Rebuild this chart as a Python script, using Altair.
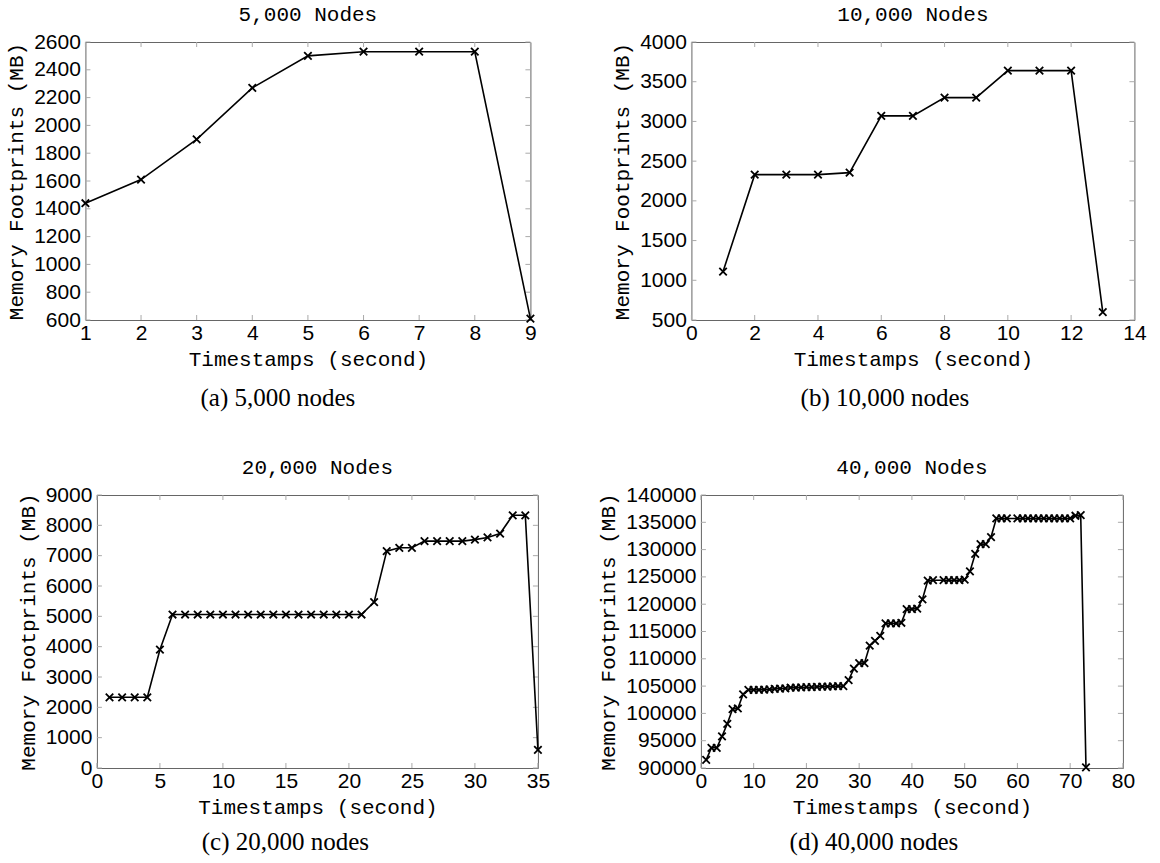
import altair as alt
import pandas as pd

# ---------------- data ----------------
A_T = [1, 2, 3, 4, 5, 6, 7, 8, 9]
A_MB = [1440, 1610, 1900, 2270, 2500, 2530, 2530, 2530, 610]

B_T = [1, 2, 3, 4, 5, 6, 7, 8, 9, 10, 11, 12, 13]
B_MB = [1110, 2330, 2330, 2330, 2355, 3070, 3070, 3300, 3300, 3640, 3640, 3640, 600]

C_T = [1, 2, 3, 4, 5, 6, 7, 8, 9, 10, 11, 12, 13, 14, 15, 16, 17, 18, 19, 20,
       21, 22, 23, 24, 25, 26, 27, 28, 29, 30, 31, 32, 33, 34, 35]
C_MB = [2330, 2330, 2330, 2330, 3900, 5060, 5060, 5060, 5060, 5060, 5060, 5060,
        5060, 5060, 5060, 5060, 5060, 5060, 5060, 5060, 5060, 5470, 7150, 7260,
        7260, 7480, 7480, 7480, 7480, 7530, 7600, 7730, 8330, 8330, 600]

D_T = [1, 2, 3, 4, 5, 6, 7, 8, 9, 10, 11, 12, 13, 14, 15, 16, 17, 18, 19, 20,
       21, 22, 23, 24, 25, 26, 27, 28, 29, 30, 31, 32, 33, 34, 35, 36, 37, 38,
       39, 40, 41, 42, 43, 44, 46, 47, 48, 49, 50, 51, 52, 53, 54, 55, 56, 57,
       58, 60, 61, 62, 63, 64, 65, 66, 67, 68, 69, 70, 71, 72, 73]
D_MB = [91500, 93700, 93700, 95800, 98100, 100800, 100900, 103500, 104300,
        104300, 104300, 104350, 104400, 104500, 104550, 104600, 104700, 104700,
        104750, 104800, 104800, 104850, 104900, 104900, 104950, 105000, 105000,
        106100, 108200, 109200, 109200, 112400, 113300, 114200, 116500, 116500,
        116500, 116600, 119100, 119100, 119200, 120900, 124300, 124400, 124400,
        124400, 124400, 124400, 124500, 126000, 129200, 131000, 131000, 132300,
        135700, 135700, 135700, 135700, 135700, 135700, 135700, 135700, 135700,
        135700, 135700, 135700, 135700, 135700, 136200, 136300, 90100]

A_XTICKS = [1, 2, 3, 4, 5, 6, 7, 8, 9]
A_YTICKS = [600, 800, 1000, 1200, 1400, 1600, 1800, 2000, 2200, 2400, 2600]
B_XTICKS = [0, 2, 4, 6, 8, 10, 12, 14]
B_YTICKS = [500, 1000, 1500, 2000, 2500, 3000, 3500, 4000]
C_XTICKS = [0, 5, 10, 15, 20, 25, 30, 35]
C_YTICKS = [0, 1000, 2000, 3000, 4000, 5000, 6000, 7000, 8000, 9000]
D_XTICKS = [0, 10, 20, 30, 40, 50, 60, 70, 80]
D_YTICKS = [90000, 95000, 100000, 105000, 110000, 115000, 120000, 125000,
            130000, 135000, 140000]

TITLES = ["5,000 Nodes", "10,000 Nodes", "20,000 Nodes", "40,000 Nodes"]
CAPTIONS = ["(a) 5,000 nodes", "(b) 10,000 nodes", "(c) 20,000 nodes", "(d) 40,000 nodes"]
X_TITLE = "Timestamps (second)"
Y_TITLE = "Memory Footprints (MB)"

MONO = "Liberation Mono"
SANS = "Liberation Sans"
SERIF = "Liberation Serif"
TICK_COLOR = "#aaaaaa"
FRAME_COLOR = "#666666"


def panel(t, mb, xdom, xticks, ydom, yticks, title, caption, w, h, cap_dx, cap_dy):
    df = pd.DataFrame({"t": t, "mb": mb})
    xs = alt.Scale(domain=xdom, nice=False, zero=False)
    ys = alt.Scale(domain=ydom, nice=False, zero=False)
    xaxis = alt.Axis(values=xticks, title=X_TITLE, grid=False, ticks=False, domain=False,
                     labelFlush=False, labelFont=SANS, labelFontSize=21, labelColor="black",
                     labelPadding=2, titleFont=MONO, titleFontSize=21, titleFontWeight="normal",
                     titleColor="black", titlePadding=5, format="d")
    yaxis = alt.Axis(values=yticks, title=Y_TITLE, grid=False, ticks=False, domain=False,
                     labelFlush=False, labelFont=SANS, labelFontSize=21, labelColor="black",
                     labelPadding=5, titleFont=MONO, titleFontSize=21, titleFontWeight="normal",
                     titleColor="black", titlePadding=7, format="d")
    X = lambda f: alt.X(f, scale=xs, axis=xaxis)
    Y = lambda f: alt.Y(f, scale=ys, axis=yaxis)

    base = alt.Chart(df)
    line = base.mark_line(color="black", strokeWidth=1.6, clip=False).encode(
        x=X("t:Q"), y=Y("mb:Q"))
    pts = base.mark_point(shape="M-1,-1L1,1M-1,1L1,-1", size=56, strokeWidth=1.8,
                          color="black", filled=False, opacity=1).encode(
        x=X("t:Q"), y=Y("mb:Q"))

    xt = alt.Chart(pd.DataFrame({"v": xticks}))
    yt = alt.Chart(pd.DataFrame({"v": yticks}))
    tick_b = xt.mark_rule(color=TICK_COLOR, strokeWidth=1).encode(
        x=X("v:Q"), y=alt.value(h), y2=alt.value(h - 5))
    tick_t = xt.mark_rule(color=TICK_COLOR, strokeWidth=1).encode(
        x=X("v:Q"), y=alt.value(0), y2=alt.value(5))
    tick_l = yt.mark_rule(color=TICK_COLOR, strokeWidth=1).encode(
        y=Y("v:Q"), x=alt.value(0), x2=alt.value(5))
    tick_r = yt.mark_rule(color=TICK_COLOR, strokeWidth=1).encode(
        y=Y("v:Q"), x=alt.value(w - 5), x2=alt.value(w))

    cap = alt.Chart(pd.DataFrame({"c": [caption]})).mark_text(
        font=SERIF, fontSize=25, color="black", baseline="middle", align="center").encode(
        text="c:N", x=alt.value(w / 2 + cap_dx), y=alt.value(h + cap_dy))

    return alt.layer(tick_b, tick_t, tick_l, tick_r, line, pts, cap).properties(
        width=w, height=h,
        title=alt.TitleParams(title, font=MONO, fontSize=21, fontWeight="normal",
                              color="black", frame="group", anchor="middle", offset=6))


pa = panel(A_T, A_MB, [1, 9], A_XTICKS, [600, 2600], A_YTICKS, TITLES[0], CAPTIONS[0],
           445, 278, -30, 78)
pb = panel(B_T, B_MB, [0, 14], B_XTICKS, [500, 4000], B_YTICKS, TITLES[1], CAPTIONS[1],
           443, 278, -28, 78)
pc = panel(C_T, C_MB, [0, 35], C_XTICKS, [0, 9000], C_YTICKS, TITLES[2], CAPTIONS[2],
           441, 273, -32, 74)
pd_ = panel(D_T, D_MB, [0, 80], D_XTICKS, [90000, 140000], D_YTICKS, TITLES[3], CAPTIONS[3],
            422, 273, -38, 74)

row1 = alt.hconcat(pa, pb, spacing=72)
row2 = alt.hconcat(pc, pd_, spacing=46)

chart = alt.vconcat(row1, row2, spacing=44, center=True).properties(
    padding={"left": 5, "top": 3, "right": 0, "bottom": 0},
    background="white",
).configure_view(stroke=FRAME_COLOR, strokeWidth=1)

chart.save("out.html", embed_options={"renderer": "svg", "actions": False})
